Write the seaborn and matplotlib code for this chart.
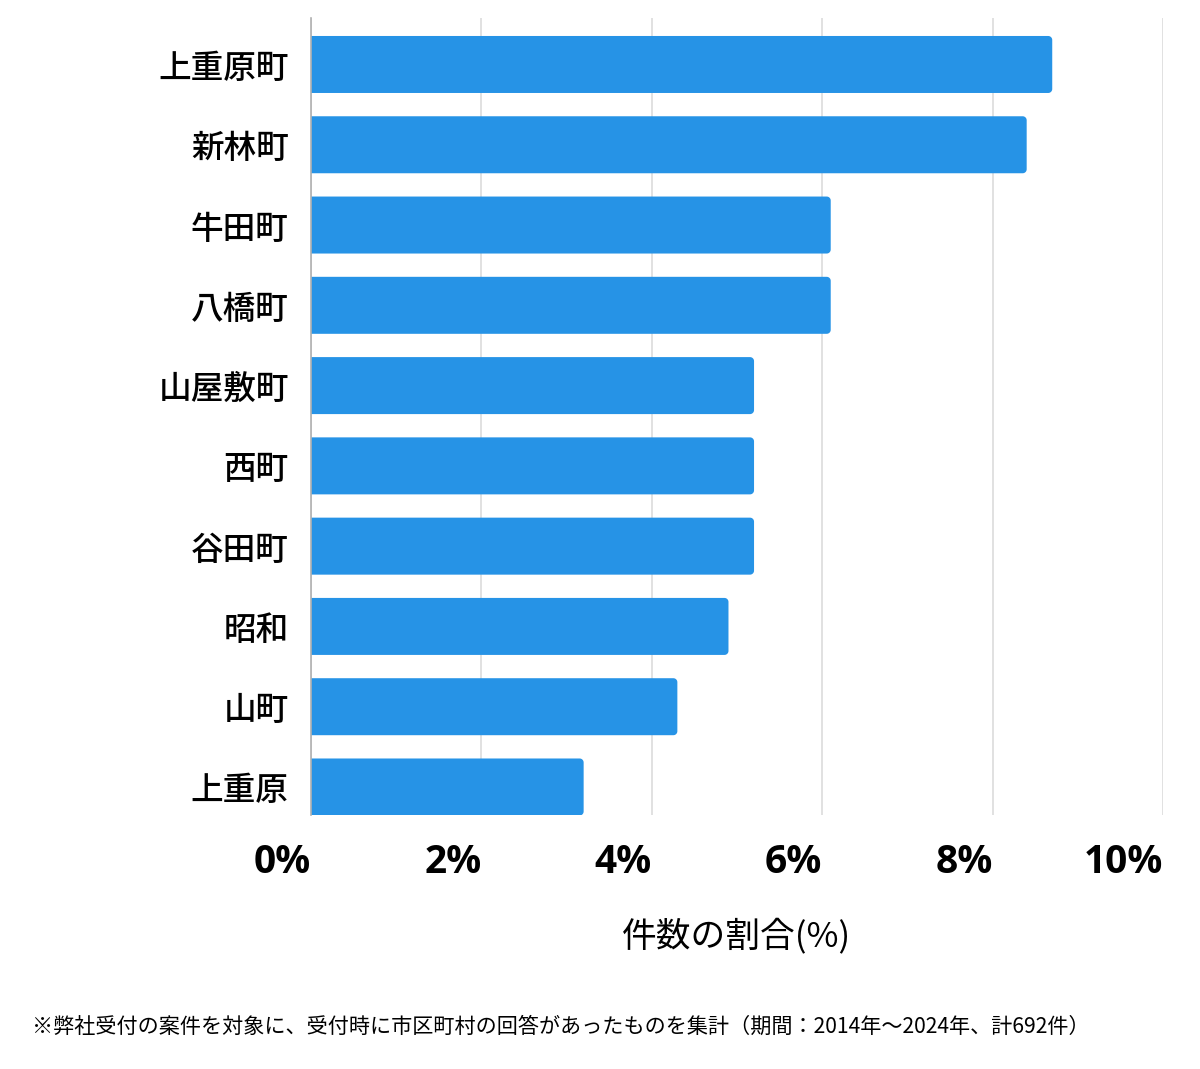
import matplotlib
matplotlib.use("Agg")
import matplotlib.pyplot as plt
import seaborn as sns
import pandas as pd
import numpy as np
from matplotlib.patches import Polygon

categories = ["上重原町", "新林町", "牛田町", "八橋町", "山屋敷町", "西町", "谷田町", "昭和", "山町", "上重原"]
values = [8.7, 8.4, 6.1, 6.1, 5.2, 5.2, 5.2, 4.9, 4.3, 3.2]
xticks = [0, 2, 4, 6, 8, 10]
xtick_labels = ["0%", "2%", "4%", "6%", "8%", "10%"]
xlabel = "件数の割合(%)"
footnote = "※弊社受付の案件を対象に、受付時に市区町村の回答があったものを集計（期間：2014年～2024年、計692件）"

sns.set_style("white")
plt.rcParams['font.family'] = ['Noto Sans CJK JP', 'DejaVu Sans']

df = pd.DataFrame({"area": categories, "pct": values})

fig = plt.figure(figsize=(12, 10.69), dpi=100)
ax = fig.add_axes([311/1200, 1-815/1069, (1163-311)/1200, (815-18)/1069])

color = "#2693e6"
sns.barplot(data=df, x="pct", y="area", orient="h", color=color, width=0.71,
            saturation=1, ax=ax, zorder=2)

ax.set_xlim(0, 10)
ylo, yhi = 9.349, -0.579
ax.set_ylim(ylo, yhi)

# rounded right corners (radius in pixels), square left corners
px_x = (1163-311)/10.0
px_y = (815-18)/(ylo-yhi)
r_px = 4.0
rx = r_px/px_x
ry = r_px/px_y
patches = list(ax.patches)
for p in patches:
    x0 = p.get_x(); y0 = p.get_y(); w = p.get_width(); h = p.get_height()
    p.remove()
    x1 = x0 + w; y1 = y0 + h
    pts = [(x0, y0)]
    cx, cy = x1 - rx, y0 + ry
    for t in np.linspace(np.pi/2, 0, 10):
        pts.append((cx + rx*np.cos(t), cy - ry*np.sin(t)))
    cx, cy = x1 - rx, y1 - ry
    for t in np.linspace(0, np.pi/2, 10):
        pts.append((cx + rx*np.cos(t), cy + ry*np.sin(t)))
    pts.append((x0, y1))
    ax.add_patch(Polygon(pts, closed=True, facecolor=color, edgecolor="none", zorder=2))

ax.set_xticks(xticks)
ax.set_xticklabels(xtick_labels, fontfamily="Open Sans", fontweight="bold", fontsize=28,
                   ha="right", color="black")
ax.tick_params(axis="x", length=0, pad=20)
ax.tick_params(axis="y", length=0, pad=16)
for lbl in ax.get_yticklabels():
    lbl.set_fontsize(23.5)
    lbl.set_fontweight("medium")
    lbl.set_color("black")

ax.set_ylabel("")
ax.set_xlabel(xlabel, fontsize=25, labelpad=26, color="black")

ax.grid(axis="x", color="#dcdcdc", linewidth=1.2, zorder=0)
ax.grid(axis="y", visible=False)
ax.set_axisbelow(True)
for s in ["top", "right", "bottom"]:
    ax.spines[s].set_visible(False)
ax.spines["left"].set_color("#b0b0b0")
ax.spines["left"].set_linewidth(1.2)
ax.spines["left"].set_zorder(3)

fig.text(32/1200, 1-1027/1069, footnote, fontsize=15.2, ha="left", va="center", color="black")

fig.savefig("out.png", dpi=100, facecolor="white")
